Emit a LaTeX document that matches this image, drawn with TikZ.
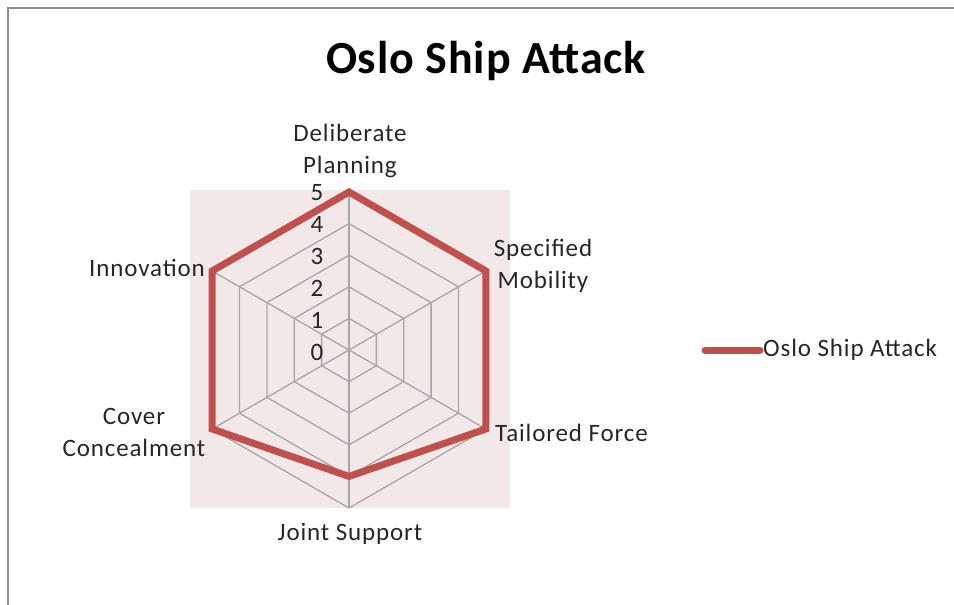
\documentclass[tikz,border=0pt]{standalone}
\usepackage{fontspec}
\setmainfont{Carlito}[LetterSpace=3.5]
\newfontfamily\titlefont{Carlito}[LetterSpace=2]
\usetikzlibrary{calc}
\definecolor{plotbg}{HTML}{F2E8E8}
\definecolor{gridgray}{HTML}{A6A6A6}
\definecolor{series}{HTML}{C0504D}
\definecolor{framegray}{HTML}{8C8C8C}
\tikzset{
  gridline/.style={draw=gridgray, line width=1.3pt},
  seriesline/.style={draw=series, line width=7pt, line join=miter},
  axislabel/.style={font=\fontsize{25}{32}\selectfont, text=black!85, inner sep=0pt, align=center},
  ticklabel/.style={font=\fontsize{25}{28}\selectfont, text=black!85, inner sep=0pt},
  titlelabel/.style={font=\titlefont\fontsize{46}{50}\selectfont\bfseries, inner sep=0pt}
}
\begin{document}
\begin{tikzpicture}[x=1pt,y=-1pt]
  \useasboundingbox (0,0) rectangle (954,605);
  % chart frame (top and left edges)
  \draw[framegray, line width=2pt] (8,605) -- (8,8) -- (954,8);
  % plot area
  \fill[plotbg] (190,190) rectangle (510,508);
  \coordinate (c) at (349,350);
  % grid hexagons and spokes
  \foreach \k in {1,...,5} {
    \draw[gridline] ($(c)+(-90:\k*31.6)$) -- ($(c)+(-30:\k*31.6)$) -- ($(c)+(30:\k*31.6)$)
      -- ($(c)+(90:\k*31.6)$) -- ($(c)+(150:\k*31.6)$) -- ($(c)+(210:\k*31.6)$) -- cycle;
  }
  \foreach \a/\n in {-90/dp,-30/sm,30/tf,90/js,150/cc,210/in} {
    \coordinate (\n) at ($(c)+(\a:158)$);
    \draw[gridline] (c) -- (\n);
  }
  % data series
  \coordinate (v1) at ($(c)+(-90:158)$);
  \coordinate (v2) at ($(c)+(-30:158)$);
  \coordinate (v3) at ($(c)+(30:158)$);
  \coordinate (v4) at ($(c)+(90:126.4)$);
  \coordinate (v5) at ($(c)+(150:158)$);
  \coordinate (v6) at ($(c)+(210:158)$);
  \draw[seriesline] (v1) -- (v2) -- (v3) -- (v4) -- (v5) -- (v6) -- cycle;
  % value ticks
  \foreach \k in {0,...,5} {
    \node[ticklabel] (t\k) at (317,{352-\k*31.8}) {\k};
  }
  % category labels
  \node[axislabel] (ldp) at (350,151) {Deliberate\\Planning};
  \node[axislabel] (lsm) at (543,266) {Specified\\Mobility};
  \node[axislabel, anchor=west] (ltf) at (495,433) {Tailored Force};
  \node[axislabel] (ljs) at (350,534) {Joint Support};
  \node[axislabel] (lcc) at (134,432) {Cover\\Concealment};
  \node[axislabel, anchor=east] (lin) at (205,268) {Innovation};
  % title
  \node[titlelabel] (title) at (486,61) {Oslo Ship Attack};
  % legend
  \coordinate (lg1) at (705,350);
  \coordinate (lg2) at (760,350);
  \draw[draw=series, line width=7pt, line cap=round] (lg1) -- (lg2);
  \node[axislabel, anchor=west] (lgtext) at (763,350) {Oslo Ship Attack};
\end{tikzpicture}
\end{document}
